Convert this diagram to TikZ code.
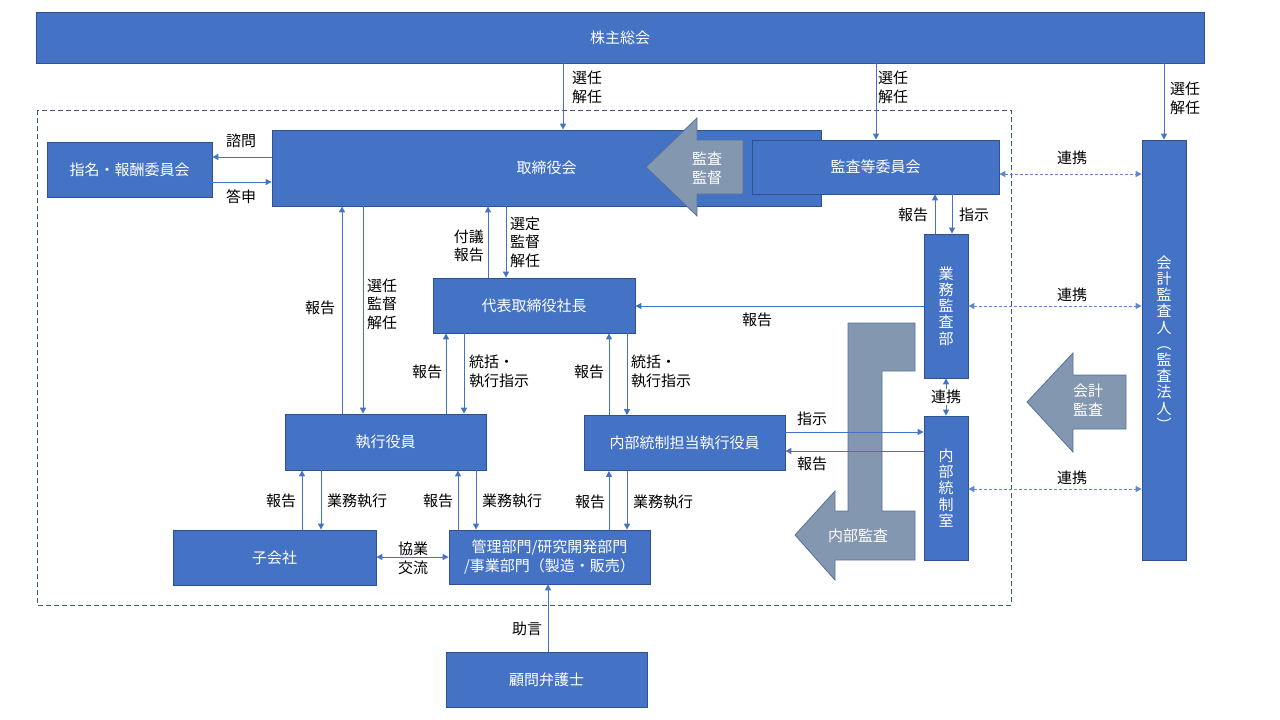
\documentclass[tikz,border=0pt]{standalone}
\usepackage{fontspec}
\setmainfont{Noto Sans CJK JP}
\usetikzlibrary{arrows.meta}
\definecolor{bfill}{HTML}{4472C4}
\definecolor{bdr}{HTML}{2F528F}
\definecolor{lc}{HTML}{4472C4}
\definecolor{gfill}{HTML}{8497B0}
\definecolor{gdr}{HTML}{56719A}
\definecolor{framec}{HTML}{3A5683}
\begin{document}
\begin{tikzpicture}[x=1pt,y=-1pt,
  box/.style={draw=bdr, fill=bfill, text=white, line width=0.8pt, inner sep=0pt,
    font=\fontsize{15}{19}\selectfont, align=center},
  vtext/.style={text=white, inner sep=0pt, align=center, font=\fontsize{15}{16.2}\selectfont},
  lbl/.style={inner sep=0pt, font=\fontsize{15}{19}\selectfont, text=black},
  arr/.style={draw=lc, line width=1pt, -{Triangle[length=6pt,width=6pt]}},
  darr/.style={draw=lc, line width=1pt, {Triangle[length=6pt,width=6pt]}-{Triangle[length=6pt,width=6pt]}},
  linkarr/.style={draw=lc!85, line width=1pt, dash pattern=on 3pt off 2pt,
    {Triangle[length=6pt,width=6pt]}-{Triangle[length=6pt,width=6pt]}},
  grayarrow/.style={fill=gfill, draw=gdr, line width=0.8pt},
  gtext/.style={text=white, inner sep=0pt, align=center, font=\fontsize{15}{19}\selectfont}
]
\useasboundingbox (0,0) rectangle (1280,720);

% dashed company frame
\draw[framec, line width=0.9pt, dash pattern=on 5pt off 3pt] (37,110) rectangle (1011,605);

% boxes
\node[box, minimum width=1168pt, minimum height=51pt] (kabu) at (620,37.5) {株主総会};
\node[box, minimum width=165pt, minimum height=55pt] (shimei) at (129.5,169.5) {指名・報酬委員会};
\node[box, minimum width=549pt, minimum height=76pt] (tori) at (546.5,168) {取締役会};
\node[box, minimum width=247pt, minimum height=54pt] (kansa) at (875.5,167) {監査等委員会};
\node[box, minimum width=44pt, minimum height=420pt] (kaikei) at (1164,350) {};
\node[vtext] (kaikeit) at (1164,343) {会\\計\\監\\査\\人\\︵\\監\\査\\法\\人\\︶};
\node[box, minimum width=44pt, minimum height=144pt] (gyomu) at (946,306) {};
\node[vtext] (gyomut) at (946,306) {業\\務\\監\\査\\部};
\node[box, minimum width=44pt, minimum height=144pt] (naibu) at (946,488) {};
\node[vtext] (naibut) at (946,488) {内\\部\\統\\制\\室};
\node[box, minimum width=202pt, minimum height=55pt] (daihyo) at (534,305.5) {代表取締役社長};
\node[box, minimum width=201pt, minimum height=56pt] (shikko) at (385.5,442) {執行役員};
\node[box, minimum width=201pt, minimum height=55pt] (naitou) at (684.5,443) {内部統制担当執行役員};
\node[box, minimum width=203pt, minimum height=55pt] (kogaisha) at (274.5,557.5) {子会社};
\node[box, minimum width=201pt, minimum height=54pt] (kanri) at (549.5,557) {管理部門/研究開発部門\\/事業部門（製造・販売）};
\node[box, minimum width=201pt, minimum height=55pt] (komon) at (546.5,679.5) {顧問弁護士};

% gray block arrows
\draw[grayarrow] (646,167) -- (697,118) -- (697,140) -- (743,140) -- (743,194) -- (697,194) -- (697,216) -- cycle;
\node[gtext] (kantoku) at (707,168) {監査\\監督};
\draw[grayarrow] (1027,402) -- (1073,353) -- (1073,375) -- (1126,375) -- (1126,429) -- (1073,429) -- (1073,452) -- cycle;
\node[gtext] (kaikeikansa) at (1088,400) {会計\\監査};
\draw[grayarrow] (848,323) -- (915,323) -- (915,371) -- (882,371) -- (882,511) -- (915,511) -- (915,560)
  -- (835,560) -- (835,580) -- (795,535) -- (835,491) -- (835,511) -- (848,511) -- cycle;
\node[gtext] (naibukansa) at (858,536) {内部監査};

% helper coordinates
\coordinate (v563) at (563,0);
\coordinate (v876) at (876,0);
\coordinate (v1164) at (1164,0);
\coordinate (v342) at (342,0);
\coordinate (v363) at (363,0);
\coordinate (v488) at (488,0);
\coordinate (v506) at (506,0);
\coordinate (v446) at (446,0);
\coordinate (v464) at (464,0);
\coordinate (v609) at (609,0);
\coordinate (v627) at (627,0);
\coordinate (v935) at (935,0);
\coordinate (v952) at (952,0);
\coordinate (v946) at (946,0);
\coordinate (v302) at (302,0);
\coordinate (v321) at (321,0);
\coordinate (v458) at (458,0);
\coordinate (v476) at (476,0);
\coordinate (v548) at (548,0);
\coordinate (h157) at (0,157);
\coordinate (h182) at (0,182);
\coordinate (h174) at (0,174);
\coordinate (h306) at (0,306);
\coordinate (h432) at (0,432);
\coordinate (h451) at (0,451);
\coordinate (h489) at (0,489);
\coordinate (h557) at (0,557);

% shareholders
\draw[arr] (kabu.south -| v563) -- (tori.north -| v563);
\draw[arr] (kabu.south -| v876) -- (kansa.north -| v876);
\draw[arr] (kabu.south -| v1164) -- (kaikei.north -| v1164);
\node[lbl, anchor=west, align=left] (l1) at (572,87) {選任\\解任};
\node[lbl, anchor=west, align=left] (l2) at (878,87) {選任\\解任};
\node[lbl, anchor=west, align=left] (l3) at (1170,98) {選任\\解任};

% nomination committee
\draw[arr] (tori.west |- h157) -- (shimei.east |- h157);
\draw[arr] (shimei.east |- h182) -- (tori.west |- h182);
\node[lbl] (l4) at (241,141) {諮問};
\node[lbl] (l5) at (241,197) {答申};

% board - executive officers
\draw[arr] (shikko.north -| v342) -- (tori.south -| v342);
\draw[arr] (tori.south -| v363) -- (shikko.north -| v363);
\node[lbl] (l6) at (320,308) {報告};
\node[lbl, anchor=west, align=left, font=\fontsize{15}{18.5}\selectfont] (l7) at (367,304) {選任\\監督\\解任};

% board - president
\draw[arr] (daihyo.north -| v488) -- (tori.south -| v488);
\draw[arr] (tori.south -| v506) -- (daihyo.north -| v506);
\node[lbl, anchor=east, align=left, font=\fontsize{15}{17.5}\selectfont] (l8) at (484,246) {付議\\報告};
\node[lbl, anchor=west, align=left, font=\fontsize{15}{18.5}\selectfont] (l9) at (510,242) {選定\\監督\\解任};

% president - executive officers
\draw[arr] (shikko.north -| v446) -- (daihyo.south -| v446);
\draw[arr] (daihyo.south -| v464) -- (shikko.north -| v464);
\node[lbl] (l10) at (427,372) {報告};
\node[lbl, anchor=west, align=left] (l11) at (469,371) {統括・\\執行指示};

% president - internal control officer
\draw[arr] (naitou.north -| v609) -- (daihyo.south -| v609);
\draw[arr] (daihyo.south -| v627) -- (naitou.north -| v627);
\node[lbl] (l12) at (589,372) {報告};
\node[lbl, anchor=west, align=left] (l13) at (631,371) {統括・\\執行指示};

% audit dept
\draw[arr] (gyomu.west |- h306) -- (daihyo.east |- h306);
\node[lbl] (l14) at (757,320) {報告};
\draw[arr] (gyomu.north -| v935) -- (kansa.south -| v935);
\draw[arr] (kansa.south -| v952) -- (gyomu.north -| v952);
\node[lbl] (l15) at (913,215) {報告};
\node[lbl] (l16) at (974,215) {指示};
\draw[darr] (gyomu.south -| v946) -- (naibu.north -| v946);
\node[lbl, fill=white, inner sep=1pt] (l17) at (946,397) {連携};

% internal control
\draw[arr] (naitou.east |- h432) -- (naibu.west |- h432);
\draw[arr] (naibu.west |- h451) -- (naitou.east |- h451);
\node[lbl] (l18) at (812,419) {指示};
\node[lbl] (l19) at (812,464) {報告};

% links with auditor
\draw[linkarr] (kansa.east |- h174) -- (kaikei.west |- h174);
\draw[linkarr] (gyomu.east |- h306) -- (kaikei.west |- h306);
\draw[linkarr] (naibu.east |- h489) -- (kaikei.west |- h489);
\node[lbl] (l20) at (1072,158) {連携};
\node[lbl] (l21) at (1072,295) {連携};
\node[lbl] (l22) at (1072,478) {連携};

% executive officers - subsidiaries / departments
\draw[arr] (kogaisha.north -| v302) -- (shikko.south -| v302);
\draw[arr] (shikko.south -| v321) -- (kogaisha.north -| v321);
\node[lbl] (l23) at (281,501) {報告};
\node[lbl] (l24) at (357,501) {業務執行};
\draw[arr] (kanri.north -| v458) -- (shikko.south -| v458);
\draw[arr] (shikko.south -| v476) -- (kanri.north -| v476);
\node[lbl] (l25) at (438,501) {報告};
\node[lbl] (l26) at (512,501) {業務執行};
\draw[arr] (kanri.north -| v609) -- (naitou.south -| v609);
\draw[arr] (naitou.south -| v627) -- (kanri.north -| v627);
\node[lbl] (l27) at (590,502) {報告};
\node[lbl] (l28) at (663,502) {業務執行};

% subsidiaries - departments
\draw[darr] (kogaisha.east |- h557) -- (kanri.west |- h557);
\node[lbl, align=center] (l29) at (413,558) {協業\\交流};

% lawyer
\draw[arr] (komon.north -| v548) -- (kanri.south -| v548);
\node[lbl] (l30) at (527,629) {助言};
\end{tikzpicture}
\end{document}
